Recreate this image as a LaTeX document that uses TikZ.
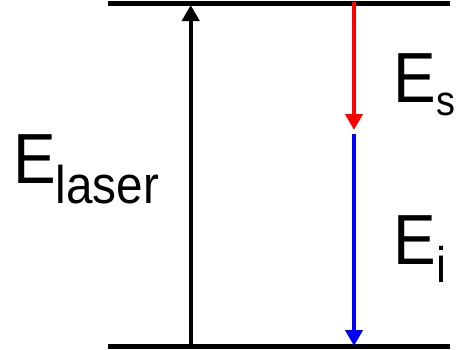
\documentclass[tikz,border=0pt]{standalone}
\usepackage{fontspec}
\setmainfont{Liberation Sans}
\usetikzlibrary{arrows.meta}
\tikzset{
  level/.style={line width=4.8pt, black},
  trans/.style={line width=4pt, -{Triangle[length=16pt,width=17pt]}},
  lbl/.style={anchor=base west, inner sep=0pt, outer sep=0pt, xscale=0.9}
}
\begin{document}
\begin{tikzpicture}[x=1pt,y=-1pt]
\useasboundingbox (0,0) rectangle (462,349);
% levels
\coordinate (tl) at (108,3.5);
\coordinate (tr) at (450,3.5);
\coordinate (bl) at (108,346.5);
\coordinate (br) at (450,346.5);
\draw[level] (tl) -- (tr);
\draw[level] (bl) -- (br);
% arrows
\coordinate (la0) at (190.7,344);
\coordinate (la1) at (190.7,5);
\coordinate (s0) at (354,2);
\coordinate (s1) at (354,130);
\coordinate (i0) at (354,134);
\coordinate (i1) at (354,346);
\draw[trans, black] (la0) -- (la1);
\draw[trans, red] (s0) -- (s1);
\draw[trans, blue] (i0) -- (i1);
% labels
\node[lbl] (elaser) at (13,183) {\fontsize{71}{71}\selectfont E\fontsize{53}{53}\selectfont\raisebox{-20pt}{laser}};
\node[lbl] (es) at (393,102) {\fontsize{71}{71}\selectfont E\fontsize{42}{42}\selectfont\raisebox{-13pt}{\hspace{1.5pt}s}};
\node[lbl] (ei) at (393,264) {\fontsize{71}{71}\selectfont E\fontsize{50}{50}\selectfont\raisebox{-18pt}{\hspace{1pt}i}};
\end{tikzpicture}
\end{document}
